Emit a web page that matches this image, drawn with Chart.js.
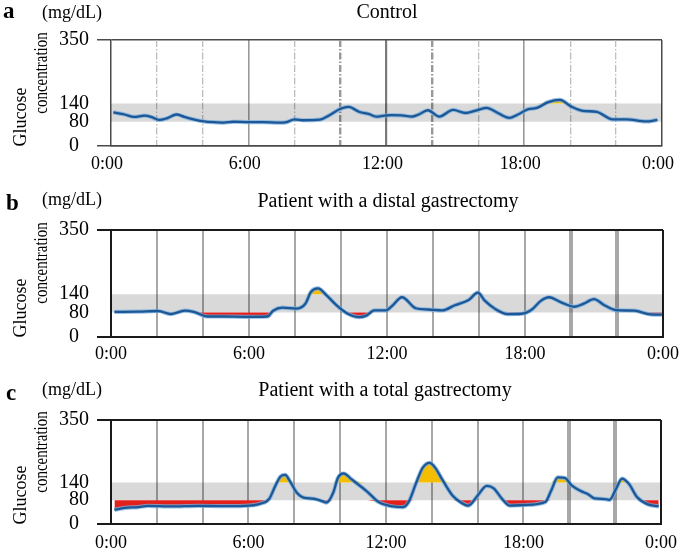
<!DOCTYPE html>
<html><head><meta charset="utf-8">
<script src="https://cdn.jsdelivr.net/npm/chart.js@4/dist/chart.umd.min.js"></script>
<style>
html,body{margin:0;padding:0;background:#fff;}
#wrap{position:relative;width:685px;height:552px;overflow:hidden;font-family:"Liberation Serif","Times New Roman",serif;color:#000;}
canvas{position:absolute;left:0;}
.t{position:absolute;white-space:nowrap;line-height:1;}
</style></head><body>
<div id="wrap">
<canvas id="ca" width="685" height="160" style="top:20px;width:685px;height:160px"></canvas>
<canvas id="cb" width="685" height="160" style="top:210px;width:685px;height:160px"></canvas>
<canvas id="cc" width="685" height="152" style="top:400px;width:685px;height:152px"></canvas>
</div>
<script>
// ---- data ----
const Y_TICKS = [0, 80, 140, 350];
const BAND_LOW = 80, BAND_HIGH = 140;
const LABEL_HOURS = [0, 6, 12, 18, 24];
const LABEL_TEXT = ['0:00', '6:00', '12:00', '18:00', '0:00'];
const GRID_HOURS = [0, 2, 4, 6, 8, 10, 12, 14, 16, 18, 20, 22, 24];
const CONTROL_SOLID_HOURS = [0, 6, 12, 18, 24];
const CONTROL_DASHED_HOURS = [2, 4, 8, 10, 14, 16, 20, 22];

const controlHours = [0.1,0.6,1.0,1.45,1.75,2.1,2.45,2.85,3.2,3.6,4.05,4.6,4.9,5.35,5.9,6.6,7.35,7.65,8.0,8.35,9.1,9.5,10.0,10.35,10.8,11.25,11.55,11.9,12.2,12.65,13.1,13.4,13.8,14.3,14.9,15.45,15.85,16.35,16.85,17.35,17.7,18.15,18.55,19.05,19.55,20.05,20.55,21.15,21.85,22.45,23.3,23.8];
const controlGlucose = [111,104,96,100,96,86,92,104,96,88,81,78,77,80,79,79,77,79,88,85,87,101,123,129,113,105,97,100,102,101,97,104,118,97,119,109,116,126,109,93,103,121,126,145,152,130,116,113,88,88,81,86];

const distalHours = [0.15,1.2,2.05,2.6,3.2,3.6,4.2,4.9,5.8,6.8,7.05,7.45,8.05,8.45,8.7,9.0,9.35,9.8,10.25,10.8,11.1,11.45,11.95,12.2,12.65,13.25,13.8,14.4,14.95,15.55,15.95,16.25,16.7,17.25,17.85,18.3,18.7,19.05,19.55,20.15,20.55,21.0,21.45,21.95,22.75,23.45,23.95];
const distalGlucose = [82,83,85,75,86,82,67,67,66,67,86,96,93,109,148,159,138,104,78,65,70,87,87,100,130,94,90,87,104,121,145,119,92,75,76,90,119,130,114,99,109,124,104,88,86,74,73];

const totalHours = [0.15,0.6,1.2,1.6,2.65,3.8,4.8,5.8,6.5,6.9,7.15,7.4,7.6,7.8,8.1,8.4,8.85,9.25,9.4,9.7,9.9,10.15,10.5,11.15,11.7,12.3,12.75,13.0,13.3,13.6,13.9,14.15,14.45,14.9,15.3,15.6,16.0,16.4,16.7,17.05,17.4,18.05,18.95,19.2,19.5,19.8,20.1,20.5,20.8,21.1,21.55,21.75,22.05,22.3,22.6,22.95,23.4,23.9];
const totalGlucose = [48,54,57,61,59,61,60,61,68,84,125,160,165,145,106,89,85,76,72,106,155,170,150,111,73,59,57,76,135,189,206,189,150,96,71,62,96,128,120,86,62,64,74,111,157,155,130,111,101,86,84,81,120,153,135,91,67,59];

// ---- text ----
const wrap = document.getElementById('wrap');
function txt(s, o) {
  const d = document.createElement('div');
  d.className = 't';
  d.textContent = s;
  d.style.fontSize = o.size + 'px';
  if (o.bold) d.style.fontWeight = 'bold';
  if (o.rot) {
    d.style.left = o.x + 'px';
    d.style.top = o.y + 'px';
    d.style.transform = 'translate(-50%,-50%) rotate(-90deg)' + (o.sx ? ' scaleX(' + o.sx + ')' : '');
  } else {
    d.style.top = (o.base - 0.84 * o.size) + 'px';
    d.style.left = o.x + 'px';
    if (o.center) d.style.transform = 'translateX(-50%)';
  }
  wrap.appendChild(d);
}
const panels = [
  {letter: 'a', lb: 18, mb: 18, title: 'Control', tx: 387, tb: 18, top: 33, bottom: 146},
  {letter: 'b', lb: 210, mb: 205, title: 'Patient with a distal gastrectomy', tx: 388, tb: 207, top: 223, bottom: 337},
  {letter: 'c', lb: 400, mb: 395, title: 'Patient with a total gastrectomy', tx: 385, tb: 396, top: 412, bottom: 524}
];
panels.forEach(p => {
  txt(p.letter, {x: p.letter === 'a' ? 3 : 6, base: p.lb, size: 23, bold: true});
  txt('(mg/dL)', {x: 42, base: p.mb, size: 18});
  txt(p.title, {x: p.tx, base: p.tb, size: 20, center: true});
  txt('Glucose', {rot: true, x: 20, y: p.bottom - 29, size: 18});
  txt('concentration', {rot: true, x: 41, y: p.top + 40, size: 18, sx: 0.83});
});

// ---- charts ----
const FONT = '"Liberation Serif","Times New Roman",serif';
function makeChart(id, hours, values, cfg) {
  const pts = hours.map((h, i) => ({x: h, y: values[i]}));
  const lowPts = hours.map((h, i) => ({x: h, y: Math.min(values[i], BAND_LOW)}));
  const highPts = hours.map((h, i) => ({x: h, y: Math.max(values[i], BAND_HIGH)}));
  const frame = cfg.frame;
  const scales = {
    x: {
      type: 'linear', min: 0, max: 24,
      afterBuildTicks: s => { s.ticks = cfg.solidHours.map(v => ({value: v})); },
      afterFit: s => { s.height = cfg.xh; },
      ticks: {autoSkip: false, maxRotation: 0, minRotation: 0, padding: cfg.xpad, color: '#000',
        labelOffset: cfg.xoff || 0,
        font: {family: FONT, size: 18},
        callback: v => { const k = LABEL_HOURS.indexOf(v); return k >= 0 ? LABEL_TEXT[k] : ''; }},
      grid: {drawTicks: false,
        color: c => { const v = c.tick ? c.tick.value : -1; if (v === 0) return 'rgba(0,0,0,0)'; if (v === 24) return frame; return cfg.gridColor(v); },
        lineWidth: c => { const v = c.tick ? c.tick.value : -1; if (v === 24) return cfg.frameW; return cfg.gridWidth(v); }},
      border: {color: frame, width: cfg.frameW}
    },
    y: {
      min: 0, max: 350,
      afterBuildTicks: s => { s.ticks = Y_TICKS.map(v => ({value: v})); },
      afterFit: s => { s.width = 111; },
      ticks: {padding: 8, color: '#000', font: {family: FONT, size: 20},
        callback: v => v === 0 ? '0\u2002' : String(v)},
      grid: {drawTicks: true, tickLength: 14,
        color: c => (c.tick && (c.tick.value === 0 || c.tick.value === 350)) ? frame : 'rgba(0,0,0,0)',
        tickColor: c => (c.tick && (c.tick.value === 0 || c.tick.value === 350)) ? frame : 'rgba(0,0,0,0)',
        lineWidth: cfg.frameW, tickWidth: cfg.frameW},
      border: {color: frame, width: cfg.frameW}
    }
  };
  if (cfg.dashedHours) {
    scales.x2 = {
      type: 'linear', min: 0, max: 24, position: 'bottom',
      afterBuildTicks: s => { s.ticks = cfg.dashedHours.map(v => ({value: v})); },
      afterFit: s => { s.height = 0; },
      ticks: {display: false},
      grid: {drawTicks: false,
        color: c => { const v = c.tick ? c.tick.value : -1; return (v === 10 || v === 14) ? '#999999' : '#bdbdbd'; },
        lineWidth: c => { const v = c.tick ? c.tick.value : -1; return (v === 10 || v === 14) ? 2.4 : 1.3; }},
      border: {display: false, dash: [7, 2, 1.5, 2]}
    };
  }
  const lineCommon = {pointRadius: 0, pointHoverRadius: 0, cubicInterpolationMode: 'monotone'};
  return new Chart(document.getElementById(id), {
    type: 'line',
    data: {datasets: [
      Object.assign({data: pts, borderColor: '#1c5896', borderWidth: 2.3, fill: false, order: 0}, lineCommon),
      Object.assign({data: pts, borderColor: 'rgba(125,175,222,0.8)', borderWidth: 4.2, fill: false, order: 1}, lineCommon),
      Object.assign({data: highPts, borderColor: 'rgba(0,0,0,0)', borderWidth: 0,
        fill: {target: {value: BAND_HIGH}}, backgroundColor: '#f5bd00', order: 2}, lineCommon),
      Object.assign({data: lowPts, borderColor: 'rgba(0,0,0,0)', borderWidth: 0,
        fill: {target: {value: BAND_LOW}}, backgroundColor: '#e3211c', order: 3}, lineCommon),
      {data: [{x: 0, y: BAND_HIGH}, {x: 24, y: BAND_HIGH}], borderColor: 'rgba(0,0,0,0)', borderWidth: 0, pointRadius: 0,
        fill: {target: {value: BAND_LOW}}, backgroundColor: 'rgba(0,0,0,0.15)', order: 4}
    ]},
    options: {
      responsive: false, maintainAspectRatio: false, animation: false,
      devicePixelRatio: 1,
      layout: {padding: {top: cfg.padTop, right: cfg.padRight, left: 0, bottom: 0}},
      plugins: {legend: {display: false}, tooltip: {enabled: false}, title: {display: false}},
      scales: scales
    }
  });
}

makeChart('ca', controlHours, controlGlucose, {
  frame: '#4a4a4a', frameW: 1.5, padTop: 13, padRight: 17, xh: 34, xpad: 7, xoff: -4,
  solidHours: CONTROL_SOLID_HOURS, dashedHours: CONTROL_DASHED_HOURS,
  gridColor: v => v === 12 ? '#7a7a7a' : '#9a9a9a',
  gridWidth: v => v === 12 ? 2.2 : 1.6
});
makeChart('cb', distalHours, distalGlucose, {
  frame: '#1a1a1a', frameW: 2, padTop: 13, padRight: 17, xh: 33, xpad: 6,
  solidHours: GRID_HOURS,
  gridColor: v => '#a8a8a8',
  gridWidth: v => (v === 20 || v === 22) ? 4 : 2
});
makeChart('cc', totalHours, totalGlucose, {
  frame: '#1a1a1a', frameW: 2, padTop: 12, padRight: 20, xh: 28, xpad: 8,
  solidHours: GRID_HOURS,
  gridColor: v => '#a8a8a8',
  gridWidth: v => (v === 20 || v === 22) ? 4 : 2
});
</script>
</body></html>
